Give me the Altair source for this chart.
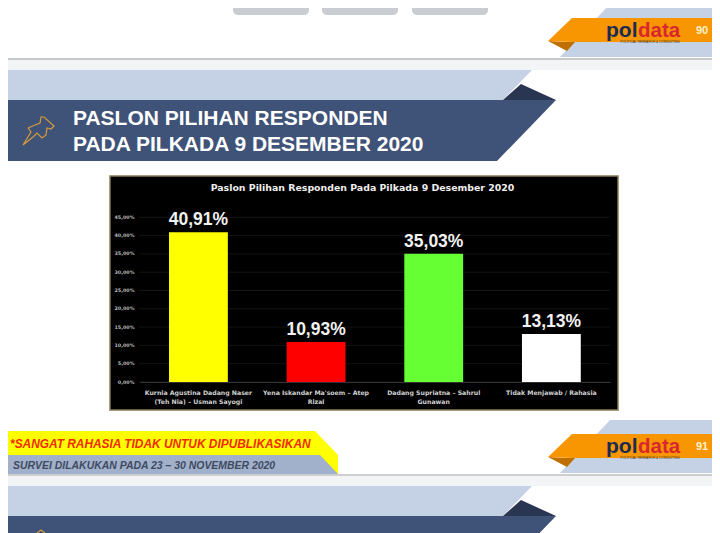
import altair as alt
import pandas as pd

# ---------- chart data ----------
categories = [
    "Kurnia Agustina Dadang Naser\n(Teh Nia) – Usman Sayogi",
    "Yena Iskandar Ma'soem – Atep\nRizal",
    "Dadang Supriatna – Sahrul\nGunawan",
    "Tidak Menjawab / Rahasia",
]
values = [40.91, 10.93, 35.03, 13.13]
value_labels = ["40,91%", "10,93%", "35,03%", "13,13%"]
bar_colors = ["#ffff00", "#ff0000", "#66ff33", "#ffffff"]
y_ticks = [0, 5, 10, 15, 20, 25, 30, 35, 40, 45]

SANS = "Liberation Sans"
PANEL_FONT = "DejaVu Sans"

page_x = alt.Scale(domain=[8, 712], range=[0, 704])
page_y = alt.Scale(domain=[8, 533], range=[0, 525])


def poly(stops, color):
    df = pd.DataFrame(stops, columns=["x", "y", "y2"])
    return alt.Chart(df).mark_area(color=color, interpolate="linear").encode(
        x=alt.X("x:Q", scale=page_x, axis=None),
        y=alt.Y("y:Q", scale=page_y, axis=None),
        y2="y2:Q",
    )


def box(x, x2, y, y2, color, radius=0, stroke=None, sw=0):
    df = pd.DataFrame([dict(x=x, x2=x2, y=y, y2=y2)])
    kw = dict(color=color, cornerRadius=radius)
    if stroke:
        kw.update(stroke=stroke, strokeWidth=sw)
    return alt.Chart(df).mark_rect(**kw).encode(
        x=alt.X("x:Q", scale=page_x, axis=None),
        x2="x2:Q",
        y=alt.Y("y:Q", scale=page_y, axis=None),
        y2="y2:Q",
    )


def label(text, x, y, size, color, font=SANS, weight="bold", style="normal", align="left"):
    df = pd.DataFrame([dict(x=x, y=y, t=text)])
    return alt.Chart(df).mark_text(
        font=font, fontSize=size, fontWeight=weight, fontStyle=style,
        color=color, align=align, baseline="middle",
    ).encode(
        x=alt.X("x:Q", scale=page_x, axis=None),
        y=alt.Y("y:Q", scale=page_y, axis=None),
        text="t:N",
    )


def outline(points, color, width=1.2):
    df = pd.DataFrame(points, columns=["x", "y"]).reset_index()
    return alt.Chart(df).mark_line(color=color, strokeWidth=width).encode(
        x=alt.X("x:Q", scale=page_x, axis=None),
        y=alt.Y("y:Q", scale=page_y, axis=None),
        order="index:Q",
    )


LIGHT = "#c5d2e5"
DARK = "#3f5277"
NAVY = "#2a3651"
ORANGE = "#f79600"
ORANGE_D = "#bf6e00"
STRIP = "#f3f4f6"
GOLD = "#d69b3c"

layers = []


def ribbon(top):
    """Slide-heading ribbon whose upper edge sits at `top`."""
    layers.append(poly([(0, top, top + 30), (503, top, top + 30), (532, top, top)], LIGHT))
    layers.append(poly([(503, top + 30, top + 30), (521, top + 14, top + 30), (556, top + 30, top + 30)], NAVY))
    layers.append(poly([(0, top + 30, top + 91), (497, top + 30, top + 91), (556, top + 30, top + 30)], DARK))


def logo(top, page):
    layers.append(poly([(560, top + 53, top + 53), (610, top, top + 53), (720, top, top + 53)], LIGHT))
    layers.append(poly([(548, top + 37, top + 37), (567, top + 38, top + 47), (575, top + 38, top + 38)], ORANGE_D))
    layers.append(poly([(548, top + 37, top + 37), (572, top + 14, top + 38), (720, top + 14, top + 38)], ORANGE))
    layers.append(label("pol", 606, top + 26.7, 21, "#1b2b52"))
    layers.append(label("data", 638, top + 26.7, 20.5, "#d9262f"))
    layers.append(label("POLITICAL RESEARCH & CONSULTING", 650, top + 37.5, 3.2, "#3a3a3a", weight="normal", align="center"))
    layers.append(label(page, 702, top + 26.5, 11, "#fdf0d0", align="center"))


# top of page: thumbnails of the previous slide
for a, b in [(233, 309), (322, 398), (412, 488)]:
    layers.append(box(a, b, -10, 15, "#c9ccd0", radius=5))
for a, b in [(328, 391), (418, 481)]:
    layers.append(box(a, b, -10, 3, "#3f5277", radius=1))
logo(4, "90")

# page gaps
layers.append(box(0, 720, 60, 70, STRIP))
layers.append(box(0, 720, 58, 60, "#c9c9c9"))
layers.append(box(0, 720, 474, 486, STRIP))
layers.append(box(0, 720, 474, 476, "#cfcfcf"))

# slide heading
ribbon(70)
layers.append(label("PASLON PILIHAN RESPONDEN", 73, 119, 21, "#ffffff"))
layers.append(label("PADA PILKADA 9 DESEMBER 2020", 73, 145, 21, "#ffffff"))
pin = [(28, 128), (35, 125), (40, 123), (41, 117), (44, 117), (54, 126), (51, 129), (47, 128), (46, 135),
       (42, 138), (37, 133), (33, 137), (23, 145), (31, 132), (28, 128)]
layers.append(outline(pin, GOLD))

# footer
layers.append(poly([(0, 431, 474), (315, 431, 474), (338, 455, 474)], "#ffff00"))
layers.append(poly([(0, 455, 474), (320, 455, 474), (338, 474, 474)], "#a1b0cb"))
layers.append(label("*SANGAT RAHASIA TIDAK UNTUK DIPUBLIKASIKAN", 10, 444, 11.9, "#f22b00", style="italic"))
layers.append(label("SURVEI DILAKUKAN PADA 23 – 30 NOVEMBER 2020", 13, 466, 10.45, "#3f4a60", style="italic"))
logo(420, "91")

# next slide
ribbon(486)
pin2 = [(37, 533), (41, 530), (45, 533)]
layers.append(outline(pin2, GOLD))

# black panel
layers.append(box(110, 618, 176, 410, "#000000", stroke="#8a7a55", sw=1.5))
layers.append(label("Paslon Pilihan Responden Pada Pilkada 9 Desember 2020", 362.5, 188, 9.4, "#eeeeee",
                    font=PANEL_FONT, align="center"))

# real chart
bar_y = alt.Scale(domain=[0, 45], range=[382 - 8, 217.3 - 8])
bar_x = alt.Scale(domain=categories, range=[139.6 - 8, 610.2 - 8], paddingInner=0.5, paddingOuter=0.25)

df = pd.DataFrame(dict(cat=categories, val=values, lab=value_labels, col=bar_colors))
grid_df = pd.DataFrame(dict(tick=y_ticks))

layers.append(
    alt.Chart(grid_df).mark_rule(color="#141414", strokeWidth=1).encode(
        y=alt.Y("tick:Q", scale=bar_y, axis=None),
        x=alt.value(139 - 8),
        x2=alt.value(610 - 8),
    )
)
layers.append(
    alt.Chart(df).mark_bar().encode(
        x=alt.X(
            "cat:N", scale=bar_x, sort=categories, title=None,
            axis=alt.Axis(
                orient="bottom", offset=-151, zindex=1, labelAngle=0,
                labelExpr="split(datum.label, '\\n')",
                labelFont=PANEL_FONT, labelFontWeight="bold", labelFontSize=6.2, labelColor="#cfcfcf",
                labelLimit=200, labelPadding=7, labelLineHeight=9,
                ticks=False, domainColor="#333333", domainWidth=1, grid=False,
            ),
        ),
        y=alt.Y(
            "val:Q", scale=bar_y, title=None,
            axis=alt.Axis(
                orient="left", offset=-128, zindex=1, values=y_ticks,
                labelExpr="replace(format(datum.value, '.2f'), '.', ',') + '%'",
                labelFont=PANEL_FONT, labelFontWeight="bold", labelFontSize=4.8, labelColor="#bdbdbd",
                labelPadding=2, ticks=False, domain=False, grid=False,
            ),
        ),
        color=alt.Color("col:N", scale=None, legend=None),
    )
)
layers.append(
    alt.Chart(df).mark_text(
        font=SANS, fontWeight="bold", fontSize=17.5, color="#f2f2f2", baseline="alphabetic", dy=-7,
    ).encode(
        x=alt.X("cat:N", scale=bar_x, sort=categories, axis=None),
        y=alt.Y("val:Q", scale=bar_y, axis=None),
        text="lab:N",
    )
)

chart = (
    alt.layer(*layers)
    .resolve_scale(x="independent", y="independent")
    .properties(
        width=704, height=525, padding=0, background="#ffffff",
        autosize=alt.AutoSizeParams(type="none"),
    )
    .configure_view(stroke=None, clip=True)
)

chart.save("out.html", embed_options={"renderer": "svg", "actions": False})
